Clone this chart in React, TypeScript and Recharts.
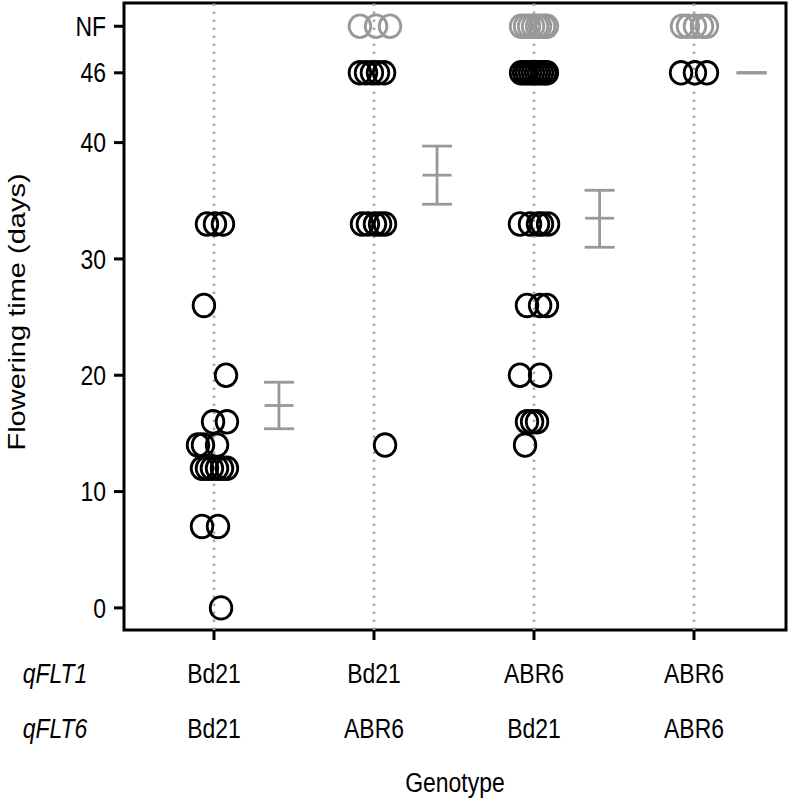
import { ScatterChart, Scatter, XAxis, YAxis, ReferenceLine, ReferenceArea, ErrorBar } from 'recharts';

// x runs over genotype index 1..4, jitter
const X_MIN = 0.4375;
const X_MAX = 4.575;
const Y_MIN = -1.9;
const Y_MAX = 52;
const NF = 50;

const groups = [1, 2, 3, 4];
const qflt1 = ['Bd21', 'Bd21', 'ABR6', 'ABR6'];
const qflt6 = ['Bd21', 'ABR6', 'Bd21', 'ABR6'];
const yTicks = [0, 10, 20, 30, 40, 46, NF];

// flowered plants: [x, days]
const flowered = [
  // Bd21 / Bd21
  [0.956, 33], [1.006, 33], [1.056, 33], [0.937, 26], [1.075, 20],
  [0.994, 16], [1.081, 16], [0.9, 14], [0.931, 14], [1.019, 14],
  [0.925, 12], [0.956, 12], [0.987, 12], [1.019, 12], [1.05, 12], [1.081, 12],
  [0.925, 7], [1.025, 7], [1.044, 0],
  // Bd21 / ABR6
  [1.912, 46], [1.95, 46], [1.987, 46], [2.025, 46], [2.063, 46],
  [1.925, 33], [1.962, 33], [2.006, 33], [2.038, 33], [2.069, 33],
  [2.069, 14],
  // ABR6 / Bd21
  [2.919, 46], [2.938, 46], [2.956, 46], [2.975, 46], [2.994, 46],
  [3.013, 46], [3.031, 46], [3.05, 46], [3.069, 46], [3.081, 46],
  [2.912, 33], [2.975, 33], [3.025, 33], [3.05, 33], [3.088, 33],
  [2.956, 26], [3.038, 26], [3.081, 26],
  [2.912, 20], [3.038, 20],
  [2.956, 16], [2.988, 16], [3.019, 16],
  [2.944, 14],
  // ABR6 / ABR6
  [3.919, 46], [4.006, 46], [4.081, 46],
];

// non-flowering plants, x positions only (plotted at NF)
const nonFlowered = [
  1.912, 2.013, 2.1,
  2.919, 2.944, 2.969, 2.994, 3.019, 3.038, 3.063, 3.081,
  3.925, 3.962, 4.006, 4.05, 4.081,
];

const meanX = [1.406, 2.394, 3.41, 4.36];
const means = [17.4, 37.2, 33.5, 46];
const errLow = [2.0, 2.5, 2.5, 0];
const errHigh = [2.0, 2.5, 2.4, 0];

const floweredData = flowered.map(([x, y]) => ({ x, y }));
const nfData = nonFlowered.map((x) => ({ x, y: NF }));
const meanData = means.map((y, i) => ({ x: meanX[i], y, err: [errLow[i], errHigh[i]] }));

const GRAY = '#999999';
const FONT = 27;
const SQUEEZE = 0.85; // the source text is a bit taller than it is wide

const Txt = ({ x, y, anchor = 'middle', italic = false, children }: any) => (
  <text
    transform={`translate(${x},${y}) scale(${SQUEEZE},1)`}
    textAnchor={anchor}
    dominantBaseline="central"
    fontSize={FONT}
    fontStyle={italic ? 'italic' : 'normal'}
    fill="#000"
  >
    {children}
  </text>
);

const ring = (color: string) => (props: any) => (
  <ellipse cx={props.cx} cy={props.cy} rx={10.8} ry={11.3} fill="none" stroke={color} strokeWidth={2.8} />
);

const meanLine = (props: any) => (
  <line x1={props.cx - 14.5} x2={props.cx + 14.5} y1={props.cy} y2={props.cy} stroke={GRAY} strokeWidth={2.8} />
);

const GenoTick = (props: any) => {
  const { x, y, payload } = props;
  const i = payload.value - 1;
  return (
    <g>
      <Txt x={x} y={y + 31}>{qflt1[i]}</Txt>
      <Txt x={x} y={y + 86}>{qflt6[i]}</Txt>
      {i === 0 && (
        <>
          <Txt x={55} y={y + 31} italic>qFLT1</Txt>
          <Txt x={55} y={y + 86} italic>qFLT6</Txt>
        </>
      )}
    </g>
  );
};

const DayTick = (props: any) => {
  const { x, y, payload } = props;
  return (
    <Txt x={x} y={y} anchor="end">
      {payload.value === NF ? 'NF' : String(payload.value)}
    </Txt>
  );
};

export default function App() {
  return (
    <div style={{ position: 'absolute', left: 0, top: 0, fontFamily: '"Liberation Sans", Arial, sans-serif' }}>
      <ScatterChart width={789} height={798} margin={{ top: 3, right: 3, left: 0, bottom: 0 }}>
        <XAxis
          type="number"
          dataKey="x"
          domain={[X_MIN, X_MAX]}
          allowDataOverflow
          ticks={groups}
          height={168}
          axisLine={false}
          tickSize={10}
          tickLine={{ stroke: '#000', strokeWidth: 3 }}
          tick={<GenoTick />}
          label={{
            content: () => <Txt x={455} y={782}>Genotype</Txt>,
          }}
        />
        <YAxis
          type="number"
          dataKey="y"
          domain={[Y_MIN, Y_MAX]}
          allowDataOverflow
          ticks={yTicks}
          width={124}
          axisLine={false}
          tickSize={10}
          tickMargin={8}
          tickLine={{ stroke: '#000', strokeWidth: 3 }}
          tick={<DayTick />}
          label={{
            content: () => (
              <text
                transform={`translate(17,312) rotate(-90) scale(1,${SQUEEZE})`}
                textAnchor="middle"
                dominantBaseline="central"
                fontSize={29}
                fill="#000"
              >
                Flowering time (days)
              </text>
            ),
          }}
        />
        {groups.map((g) => (
          <ReferenceLine key={g} x={g} stroke="#a8a8a8" strokeWidth={2.5} strokeDasharray="2.5 5.5" />
        ))}
        <ReferenceArea x1={X_MIN} x2={X_MAX} y1={Y_MIN} y2={Y_MAX} fill="none" stroke="#000" strokeWidth={3} />
        <Scatter data={nfData} shape={ring(GRAY)} isAnimationActive={false} />
        <Scatter data={floweredData} shape={ring('#000')} isAnimationActive={false} />
        <Scatter data={meanData} shape={meanLine} isAnimationActive={false}>
          <ErrorBar dataKey="err" direction="y" width={15} stroke={GRAY} strokeWidth={2.8} isAnimationActive={false} />
        </Scatter>
      </ScatterChart>
    </div>
  );
}
